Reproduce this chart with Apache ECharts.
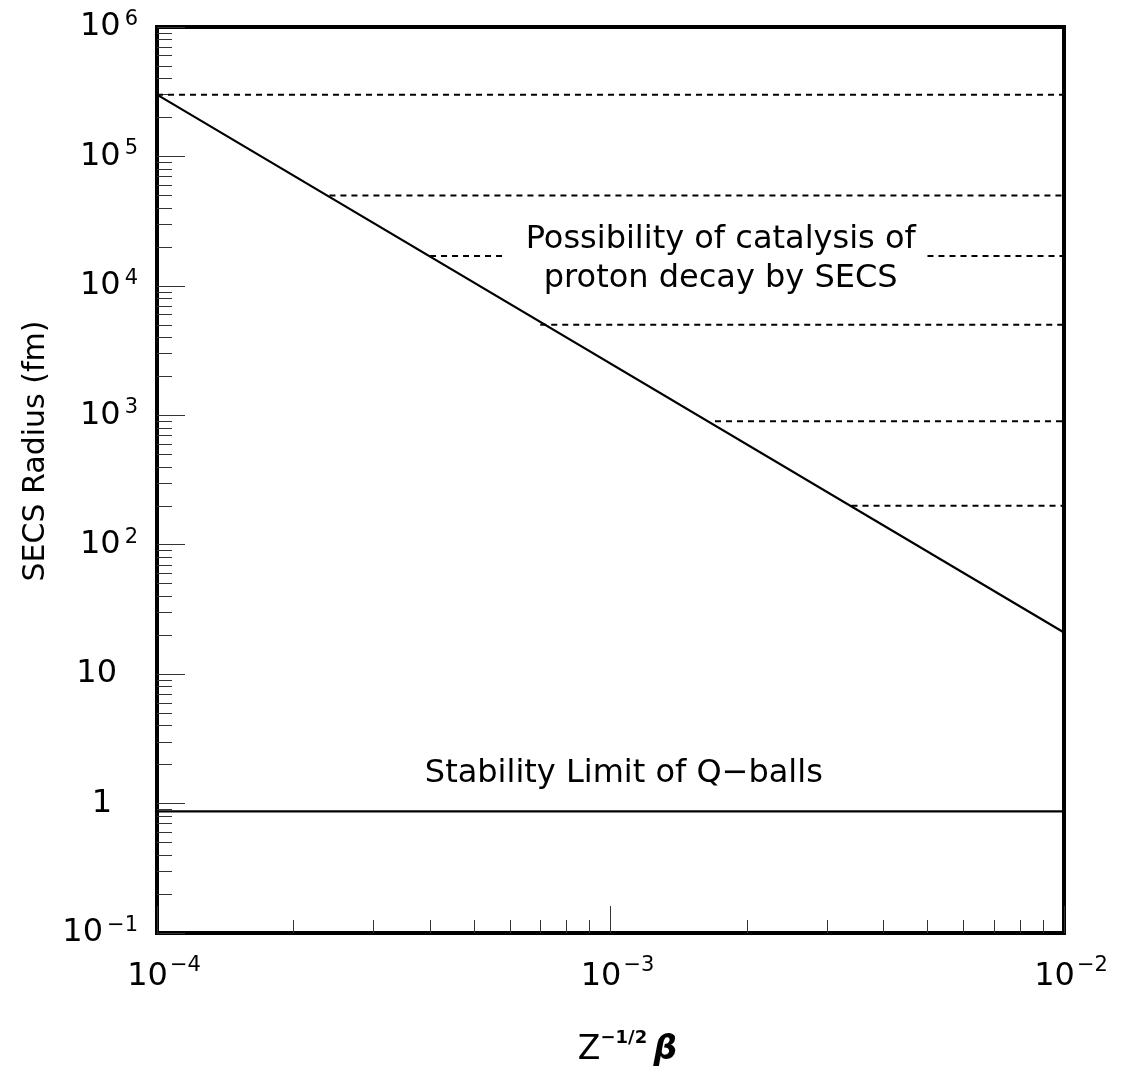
<!DOCTYPE html>
<html>
<head>
<meta charset="utf-8">
<script src="https://cdn.jsdelivr.net/npm/echarts@6/dist/echarts.min.js"></script>
<style>
  html, body { margin: 0; padding: 0; background: #fff; }
  #chart { width: 1126px; height: 1076px; }
</style>
</head>
<body>
<div id="chart"></div>
<script>
// Axis ranges
const betaRange = [1e-4, 1e-2];
const radiusRange = [1e-1, 1e6];

// SECS radius versus Z^-1/2 beta (straight line on log-log)
const secsBeta = [1e-4, 1e-2];
const secsRadius = [3.0e5, 21];

// Stability limit of Q-balls
const qballLimit = 0.87;

// Dashed levels: each starts where it meets the SECS line and runs to the right edge
const catalysisLevels = [3.0e5, 5.0e4, 1.7e4, 5.0e3, 9.0e2, 2.0e2];
const catalysisStart = [1.0e-4, 2.4e-4, 4.0e-4, 7.0e-4, 1.7e-3, 3.4e-3];
const catalysisEnd = 1e-2;
const captionGap = [5.8e-4, 5.0e-3]; // break in the 1.7e4 level around the caption
const captionLevelIndex = 2;

// Tick values
const yMajor = [1e-1, 1, 10, 1e2, 1e3, 1e4, 1e5, 1e6];
const xMajor = [1e-4, 1e-3, 1e-2];
const minorSteps = [2, 3, 4, 5, 6, 7, 8, 9];

// Caption texts and their anchor points (data coordinates)
const captionLines = [
  ['Possibility of catalysis of', 'proton decay by SECS'],
  ['Stability Limit of Q\u2212balls']
];
const captionAnchors = [[1.75e-3, 1.58e4], [1.07e-3, 1.68]];

const FONT = 'DejaVu Sans';

const minorOf = majors => majors.slice(0, -1).flatMap(d => minorSteps.map(m => +(m * d).toPrecision(6)));
const yMinor = minorOf(yMajor);
const xMinor = minorOf(xMajor);

function expText(e) { return e < 0 ? '\u2212' + (-e) : String(e); }

function yLabel(v) {
  const e = Math.round(Math.log10(v));
  if (e === 0) return '{one|1}';
  if (e === 1) return '{ten|10}';
  return '{b|10}{s|' + expText(e) + '}';
}
function xLabel(v) {
  const e = Math.round(Math.log10(v));
  return '{b|10}{s|' + expText(e) + '}';
}

const tickStyle = { color: '#333', width: 1 };

const series = [];
series.push({
  type: 'line', xAxisIndex: 0, yAxisIndex: 0,
  data: secsBeta.map((b, i) => [b, secsRadius[i]]),
  showSymbol: false, symbol: 'none',
  lineStyle: { color: '#000', width: 2.2 }, z: 5
});
series.push({
  type: 'line', xAxisIndex: 0, yAxisIndex: 0,
  data: [[betaRange[0], qballLimit], [betaRange[1], qballLimit]],
  showSymbol: false, symbol: 'none',
  lineStyle: { color: '#000', width: 2.2 }, z: 5
});
catalysisLevels.forEach((lvl, i) => {
  const segs = i === captionLevelIndex
    ? [[catalysisStart[i], captionGap[0]], [captionGap[1], catalysisEnd]]
    : [[catalysisStart[i], catalysisEnd]];
  segs.forEach(s => {
    series.push({
      type: 'line', xAxisIndex: 0, yAxisIndex: 0,
      data: [[s[0], lvl], [s[1], lvl]],
      showSymbol: false, symbol: 'none',
      lineStyle: { color: '#000', width: 2, type: [6, 5] }, z: 4
    });
  });
});
series.push({
  type: 'scatter', xAxisIndex: 0, yAxisIndex: 0,
  data: captionAnchors.map((p, i) => ({
    value: p,
    label: { formatter: captionLines[i].map(t => '{c|' + t + '}').join('\n') }
  })),
  symbolSize: 1,
  itemStyle: { color: '#fff', opacity: 0 },
  label: {
    show: true, position: 'top', distance: 0, align: 'center', verticalAlign: 'middle',
    color: '#000', opacity: 1, textBorderWidth: 0,
    rich: { c: { fontFamily: FONT, fontSize: 32, lineHeight: 39, color: '#000', textBorderWidth: 0 } }
  },
  emphasis: { disabled: true },
  silent: true, z: 6
});

const chart = echarts.init(document.getElementById('chart'), null, { renderer: 'canvas' });
chart.setOption({
  animation: false,
  backgroundColor: '#fff',
  grid: {
    left: 157, right: 62, top: 27, bottom: 143,
    show: true, borderColor: '#000', borderWidth: 4, backgroundColor: 'transparent'
  },
  xAxis: [
    {
      type: 'log', logBase: 10, min: betaRange[0], max: betaRange[1], position: 'bottom',
      axisLine: { show: false, onZero: false },
      axisTick: { show: true, inside: true, length: 27, customValues: xMajor, lineStyle: tickStyle },
      axisLabel: {
        show: true, customValues: xMajor, margin: 22, formatter: xLabel, color: '#000',
        rich: {
          b: { fontFamily: FONT, fontSize: 32, lineHeight: 44, color: '#000', padding: [0, 0, 0, 14] },
          s: { fontFamily: FONT, fontSize: 21, lineHeight: 10, verticalAlign: 'top', color: '#000', padding: [0, 0, 0, 2] }
        }
      },
      splitLine: { show: false },
      name: '{z|Z}{s|\u22121/2}{g| }{b|\u03b2}',
      nameLocation: 'middle', nameGap: 96,
      nameTextStyle: {
        color: '#000', padding: [0, 0, 0, 34],
        rich: {
          z: { fontFamily: FONT, fontSize: 33, lineHeight: 42, color: '#000' },
          s: { fontFamily: FONT, fontSize: 18, lineHeight: 12, verticalAlign: 'top', color: '#000', fontWeight: 'bold' },
          g: { fontFamily: FONT, fontSize: 20, lineHeight: 42 },
          b: { fontFamily: FONT, fontSize: 33, lineHeight: 42, fontWeight: 'bold', fontStyle: 'italic', color: '#000' }
        }
      }
    },
    {
      type: 'log', logBase: 10, min: betaRange[0], max: betaRange[1], position: 'bottom',
      axisLine: { show: false, onZero: false },
      axisTick: { show: true, inside: true, length: 13, customValues: xMinor, lineStyle: tickStyle },
      axisLabel: { show: false },
      splitLine: { show: false }
    }
  ],
  yAxis: [
    {
      type: 'log', logBase: 10, min: radiusRange[0], max: radiusRange[1], position: 'left',
      axisLine: { show: false, onZero: false },
      axisTick: { show: true, inside: true, length: 28, customValues: yMajor, lineStyle: tickStyle },
      axisLabel: {
        show: true, customValues: yMajor, margin: 19, formatter: yLabel, color: '#000',
        rich: {
          b: { fontFamily: FONT, fontSize: 32, lineHeight: 36, color: '#000' },
          s: { fontFamily: FONT, fontSize: 21, lineHeight: 10, verticalAlign: 'top', color: '#000', padding: [0, 0, 0, 4] },
          ten: { fontFamily: FONT, fontSize: 32, lineHeight: 36, color: '#000', padding: [0, 21, 0, 0] },
          one: { fontFamily: FONT, fontSize: 32, lineHeight: 36, color: '#000', padding: [0, 26, 0, 0] }
        }
      },
      splitLine: { show: false },
      name: 'SECS Radius (fm)',
      nameLocation: 'middle', nameGap: 104, nameRotate: 90,
      nameTextStyle: { fontFamily: FONT, fontSize: 30, color: '#000', padding: [0, 0, 0, 58] }
    },
    {
      type: 'log', logBase: 10, min: radiusRange[0], max: radiusRange[1], position: 'left',
      axisLine: { show: false, onZero: false },
      axisTick: { show: true, inside: true, length: 15, customValues: yMinor, lineStyle: tickStyle },
      axisLabel: { show: false },
      splitLine: { show: false }
    }
  ],
  series: series
});
</script>
</body>
</html>
